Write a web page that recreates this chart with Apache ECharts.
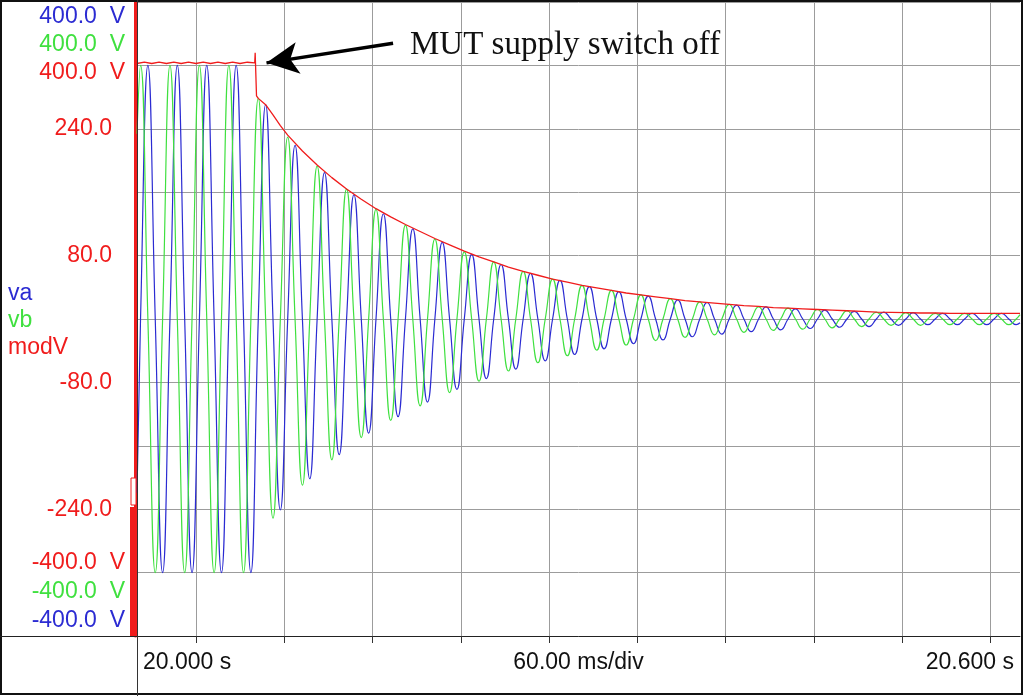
<!DOCTYPE html>
<html>
<head>
<meta charset="utf-8">
<script src="https://cdn.jsdelivr.net/npm/echarts@6.0.0/dist/echarts.min.js"></script>
<style>
  html, body { margin: 0; padding: 0; background: #fff; }
  #chart { width: 1024px; height: 696px; }
</style>
</head>
<body>
<div id="chart"></div>
<script>
// time in ms after 20.000 s, one line = one 20 ms cycle (extremes / zero crossings)
var timeMs = [0,
    2.4, 7.4, 12.4, 17.4,
    22.4, 27.4, 32.4, 37.4,
    42.4, 47.4, 52.4, 57.4,
    62.4, 67.4, 72.4, 77.4,
    82.4, 87.4, 92.4, 97.4,
    102.4, 107.4, 112.4, 117.4,
    122.4, 127.4, 132.4, 137.4,
    142.4, 147.4, 152.4, 157.4,
    162.4, 167.4, 172.4, 177.4,
    182.4, 187.4, 192.4, 197.4,
    202.4, 207.4, 212.4, 217.4,
    222.4, 227.4, 232.4, 237.4,
    242.4, 247.4, 252.4, 257.4,
    262.4, 267.4, 272.4, 277.4,
    282.4, 287.4, 292.4, 297.4,
    302.4, 307.4, 312.4, 317.4,
    322.4, 327.4, 332.4, 337.4,
    342.4, 347.4, 352.4, 357.4,
    362.4, 367.4, 372.4, 377.4,
    382.4, 387.4, 392.4, 397.4,
    402.4, 407.4, 412.4, 417.4,
    422.4, 427.4, 432.4, 437.4,
    442.4, 447.4, 452.4, 457.4,
    462.4, 467.4, 472.4, 477.4,
    482.4, 487.4, 492.4, 497.4,
    502.4, 507.4, 512.4, 517.4,
    522.4, 527.4, 532.4, 537.4,
    542.4, 547.4, 552.4, 557.4,
    562.4, 567.4, 572.4, 577.4,
    582.4, 587.4, 592.4, 597.4,
    600];

var va = [-274,
    0, 400, 0, -400,
    0, 400, 0, -400,
    0, 400, 0, -400,
    0, 400, 0, -400,
    0, 338, 0, -301,
    0, 274, 0, -252,
    0, 231, 0, -214,
    0, 196, 0, -180,
    0, 166, 0, -154,
    0, 142, 0, -131,
    0, 121, 0, -111,
    0, 102, 0, -94,
    0, 86, 0, -79,
    0, 72, 0, -66,
    0, 61, 0, -56,
    0, 51, 0, -47,
    0, 43, 0, -39,
    0, 36, 0, -33,
    0, 30, 0, -28,
    0, 26, 0, -24,
    0, 22, 0, -20,
    0, 19, 0, -17,
    0, 16, 0, -15,
    0, 14, 0, -13,
    0, 12, 0, -12,
    0, 11, 0, -10,
    0, 10, 0, -9,
    0, 9, 0, -9,
    0, 9, 0, -9,
    0, 9, 0, -9,
    -6];

var vb = [292,
    400, 0, -400, 0,
    400, 0, -400, 0,
    400, 0, -400, 0,
    400, 0, -400, 0,
    348, 0, -314, 0,
    287, 0, -262, 0,
    241, 0, -222, 0,
    205, 0, -187, 0,
    173, 0, -160, 0,
    148, 0, -137, 0,
    126, 0, -116, 0,
    106, 0, -98, 0,
    90, 0, -82, 0,
    75, 0, -69, 0,
    63, 0, -58, 0,
    53, 0, -49, 0,
    45, 0, -41, 0,
    38, 0, -34, 0,
    32, 0, -29, 0,
    27, 0, -25, 0,
    23, 0, -21, 0,
    19, 0, -18, 0,
    17, 0, -16, 0,
    15, 0, -14, 0,
    13, 0, -12, 0,
    11, 0, -10, 0,
    10, 0, -10, 0,
    9, 0, -9, 0,
    9, 0, -9, 0,
    9, 0, -9, 0,
    7];

// modV envelope
var modTimeMs = [0, 5, 10, 15, 20, 25, 30, 35, 40, 45, 50, 55, 60, 65, 70, 75, 80,
    80.3, 80.5, 81.2, 82.4, 87.4, 92.4, 97.4, 102.4,
    112.4, 122.4, 132.4, 142.4, 152.4, 162.4, 172.4, 182.4, 192.4, 202.4,
    212.4, 222.4, 232.4, 242.4, 252.4, 262.4, 272.4, 282.4, 292.4, 302.4,
    312.4, 322.4, 332.4, 342.4, 352.4, 362.4, 372.4, 382.4, 392.4, 402.4,
    412.4, 422.4, 432.4, 442.4, 452.4, 462.4, 472.4, 482.4, 492.4, 502.4,
    512.4, 522.4, 532.4, 542.4, 552.4, 562.4, 572.4, 582.4, 592.4, 600];
var modV = [403, 405, 403, 405, 403, 405, 403, 405, 403, 405, 403, 405, 403, 405, 403, 405, 404,
    420, 405, 352, 348, 338, 322, 305, 290,
    265, 243, 223, 205, 189, 174, 161, 149, 138, 127,
    117, 107, 98, 90, 82, 75, 69, 63, 58, 53,
    49, 45, 41, 38, 35, 32, 29, 27, 25, 23,
    21, 20, 18, 17, 16, 15, 14, 13, 12, 11,
    10.5, 10, 9.5, 9.5, 9, 9, 9, 9, 9, 9];

var gridTimes = [40, 100, 160, 220, 280, 340, 400, 460, 520, 580];
var xLabelValues = [0, 300, 600];
var xLabelText = ['20.000 s', '60.00 ms/div', '20.600 s'];
var yLabelValues = [300, 100, -100, -300];
var yLabelText = ['240.0', '80.0', '-80.0', '-240.0'];
var arrowFrom = [174, 435];
var arrowTo = [88, 404];

var BLUE = '#2b2bd2';
var GREEN = '#3fe03f';
var RED = '#f01c1c';
var SANS = 'Liberation Sans';

function pairs(xs, ys) {
    return xs.map(function (x, i) { return [x, ys[i]]; });
}

var myChart = echarts.init(document.getElementById('chart'));

myChart.setOption({
    animation: false,
    grid: { left: 137, right: 4, top: 2, bottom: 60 },
    legend: {
        orient: 'vertical',
        left: 2,
        top: 280,
        padding: 0,
        itemWidth: 0,
        itemHeight: 0,
        itemGap: 0,
        selectedMode: false,
        textStyle: { fontSize: 23, lineHeight: 27, fontFamily: SANS },
        data: [
            { name: 'va', textStyle: { color: BLUE } },
            { name: 'vb', textStyle: { color: GREEN } },
            { name: 'modV', textStyle: { color: RED } }
        ]
    },
    xAxis: {
        type: 'value',
        min: 0,
        max: 600,
        axisLine: { show: true, onZero: false, lineStyle: { color: '#222', width: 1 } },
        axisTick: { show: true, customValues: gridTimes, length: 7, lineStyle: { color: '#333' } },
        splitLine: { show: true, lineStyle: { color: '#9c9c9c', width: 1 } },
        axisLabel: {
            customValues: xLabelValues,
            formatter: function (v) { return xLabelText[xLabelValues.indexOf(v)]; },
            fontSize: 23,
            fontFamily: SANS,
            color: '#111',
            margin: 15,
            padding: [0, 6, 0, 6],
            alignMinLabel: 'left',
            alignMaxLabel: 'right'
        }
    },
    yAxis: {
        type: 'value',
        min: -500,
        max: 500,
        interval: 100,
        offset: 2,
        axisLine: { show: true, onZero: false, lineStyle: { color: RED, width: 3 } },
        axisTick: { show: false },
        splitLine: { show: true, lineStyle: { color: '#9c9c9c', width: 1 } },
        axisLabel: {
            formatter: function (v) {
                var k = yLabelValues.indexOf(v);
                return k < 0 ? '' : yLabelText[k];
            },
            color: RED,
            fontSize: 23,
            fontFamily: SANS,
            margin: 23
        }
    },
    series: [
        {
            name: 'va',
            type: 'line',
            data: pairs(timeMs, va),
            smooth: true,
            showSymbol: false,
            color: BLUE,
            lineStyle: { width: 1.2 }
        },
        {
            name: 'vb',
            type: 'line',
            data: pairs(timeMs, vb),
            smooth: true,
            showSymbol: false,
            color: GREEN,
            lineStyle: { width: 1.2 }
        },
        {
            name: 'modV',
            type: 'line',
            data: pairs(modTimeMs, modV),
            showSymbol: false,
            color: RED,
            lineStyle: { width: 1.3 },
            markLine: {
                silent: true,
                symbol: ['none', 'arrow'],
                symbolSize: [24, 32],
                lineStyle: { color: '#000', width: 3.5, type: 'solid' },
                label: { show: false },
                data: [[{ coord: arrowFrom }, { coord: arrowTo }]]
            }
        }
    ],
    graphic: [
        // frame and dividers
        { type: 'rect', z: 100, shape: { x: 1, y: 1, width: 1021, height: 693 }, style: { fill: 'none', stroke: '#111', lineWidth: 2 } },
        { type: 'line', z: 100, shape: { x1: 0, y1: 636.5, x2: 137, y2: 636.5 }, style: { stroke: '#222', lineWidth: 1 } },
        { type: 'line', z: 100, shape: { x1: 137.5, y1: 0, x2: 137.5, y2: 696 }, style: { stroke: '#333', lineWidth: 1 } },
        // modV channel marker
        { type: 'rect', z: 101, shape: { x: 130, y: 507, width: 6.5, height: 129 }, style: { fill: RED } },
        { type: 'rect', z: 101, shape: { x: 131, y: 478, width: 5, height: 27 }, style: { fill: '#fff', stroke: RED, lineWidth: 1 } },
        // range labels
        { type: 'text', z: 100, x: 125, y: 17, style: { text: '400.0  V', fill: BLUE, fontSize: 23, fontFamily: SANS, align: 'right', verticalAlign: 'middle' } },
        { type: 'text', z: 100, x: 125, y: 45, style: { text: '400.0  V', fill: GREEN, fontSize: 23, fontFamily: SANS, align: 'right', verticalAlign: 'middle' } },
        { type: 'text', z: 100, x: 125, y: 73, style: { text: '400.0  V', fill: RED, fontSize: 23, fontFamily: SANS, align: 'right', verticalAlign: 'middle' } },
        { type: 'text', z: 100, x: 125, y: 563, style: { text: '-400.0  V', fill: RED, fontSize: 23, fontFamily: SANS, align: 'right', verticalAlign: 'middle' } },
        { type: 'text', z: 100, x: 125, y: 592, style: { text: '-400.0  V', fill: GREEN, fontSize: 23, fontFamily: SANS, align: 'right', verticalAlign: 'middle' } },
        { type: 'text', z: 100, x: 125, y: 621, style: { text: '-400.0  V', fill: BLUE, fontSize: 23, fontFamily: SANS, align: 'right', verticalAlign: 'middle' } },
        // annotation
        { type: 'text', z: 100, x: 410, y: 45, style: { text: 'MUT supply switch off', fill: '#111', fontSize: 33, fontFamily: 'Liberation Serif', verticalAlign: 'middle' } }
    ]
});
</script>
</body>
</html>
